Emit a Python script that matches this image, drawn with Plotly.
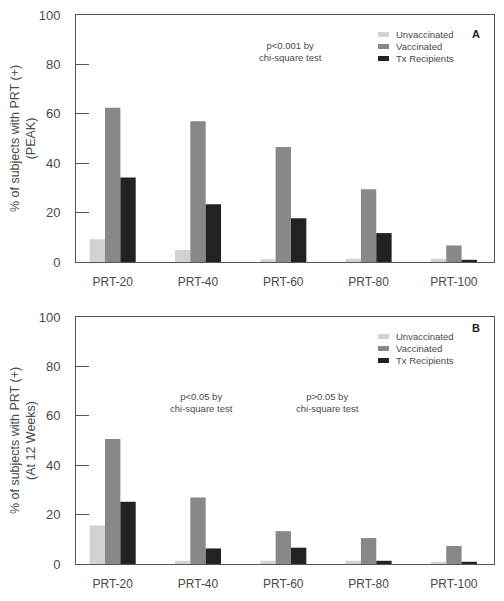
import plotly.graph_objects as go

categories = ["PRT-20", "PRT-40", "PRT-60", "PRT-80", "PRT-100"]
series_names = ["Unvaccinated", "Vaccinated", "Tx Recipients"]
peak_unvaccinated = [9.2, 4.9, 1.1, 1.3, 1.3]
peak_vaccinated = [62.4, 57.0, 46.6, 29.5, 6.7]
peak_tx = [34.2, 23.4, 17.7, 11.7, 0.9]
wk12_unvaccinated = [15.6, 1.3, 1.3, 1.3, 0.9]
wk12_vaccinated = [50.6, 26.9, 13.3, 10.5, 7.3]
wk12_tx = [25.2, 6.3, 6.6, 1.3, 0.9]
y_ticks = [0, 20, 40, 60, 80, 100]

colors = ["#d2d2d2", "#888888", "#222222"]
FONT = "Liberation Sans"
TXT = "#4a4a4a"
W, H = 504, 601
OFF = 8  # page body margin


def px(x):
    return (x - OFF) / W


def py(y):
    return 1 - (y - OFF) / H


fig = go.Figure()
top = [peak_unvaccinated, peak_vaccinated, peak_tx]
bot = [wk12_unvaccinated, wk12_vaccinated, wk12_tx]
for name, vals, c in zip(series_names, top, colors):
    fig.add_trace(go.Bar(x=categories, y=vals, name=name, marker=dict(color=c, line=dict(width=0)),
                         xaxis="x", yaxis="y", showlegend=False))
for name, vals, c in zip(series_names, bot, colors):
    fig.add_trace(go.Bar(x=categories, y=vals, name=name, marker=dict(color=c, line=dict(width=0)),
                         xaxis="x2", yaxis="y2", showlegend=False))

xd = [px(76), px(494)]
ax_common = dict(showline=True, linecolor="#555555", linewidth=1, mirror=True, showgrid=False,
                 zeroline=False, automargin=False, ticklabeloverflow="allow")
xcommon = dict(ax_common, type="category", range=[-0.43, 4.47], ticks="", ticklabelstandoff=9,
               tickfont=dict(family=FONT, size=12, color=TXT), domain=xd)
ycommon = dict(ax_common, range=[0, 100], tickvals=y_ticks, ticks="inside", ticklen=13,
               tickcolor="#555555", tickfont=dict(family=FONT, size=13, color=TXT), ticklabelstandoff=12,
               title_font=dict(family=FONT, size=12.5, color=TXT), title_standoff=5)

fig.update_layout(
    width=W, height=H, margin=dict(l=0, r=0, t=0, b=0),
    paper_bgcolor="white", plot_bgcolor="white",
    barmode="group", bargap=0.46, bargroupgap=0,
    xaxis=dict(xcommon, anchor="y"),
    yaxis=dict(ycommon, anchor="x", domain=[py(262), py(15)],
               title_text="% of subjects with PRT (+)<br>(PEAK)"),
    xaxis2=dict(xcommon, anchor="y2"),
    yaxis2=dict(ycommon, anchor="x2", domain=[py(564), py(317)],
                title_text="% of subjects with PRT (+)<br>(At 12 Weeks)"),
    showlegend=False,
)

# manual legends (swatch + label)
leg_font = dict(family=FONT, size=9.5, color=TXT)
for rows in ([34.5, 46.5, 58.5], [336.5, 348.5, 360.5]):
    for name, c, yy in zip(series_names, colors, rows):
        fig.add_shape(type="rect", xref="paper", yref="paper", x0=px(378), x1=px(389),
                      y0=py(yy + 2.5), y1=py(yy - 2.5), fillcolor=c, line=dict(width=0))
        fig.add_annotation(text=name, x=px(394), y=py(yy), xref="paper", yref="paper",
                           xanchor="left", yanchor="middle", showarrow=False, font=leg_font)

ann_font = dict(family=FONT, size=9.5, color=TXT)
fig.add_annotation(text="p<0.001 by<br>chi-square test", x=px(290), y=py(38), xref="paper", yref="paper",
                   showarrow=False, font=ann_font)
fig.add_annotation(text="p<0.05 by<br>chi-square test", x=px(168), y=py(416), xref="paper", yref="paper",
                   showarrow=False, font=ann_font)
fig.add_annotation(text="p>0.05 by<br>chi-square test", x=px(361), y=py(416), xref="paper", yref="paper",
                   showarrow=False, font=ann_font)
fig.add_annotation(text="<b>A</b>", x=px(482), y=py(26), xref="paper", yref="paper",
                   showarrow=False, font=dict(family=FONT, size=11, color="#222222"))
fig.add_annotation(text="<b>B</b>", x=px(482), y=py(328), xref="paper", yref="paper",
                   showarrow=False, font=dict(family=FONT, size=11, color="#222222"))

fig.write_html("out.html")
